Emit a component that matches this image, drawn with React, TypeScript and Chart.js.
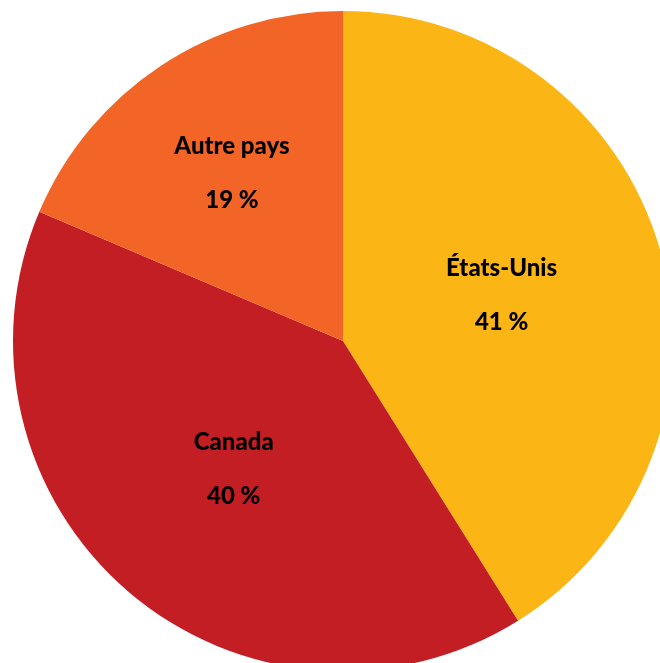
import React, { useEffect, useRef } from "react";
import { Chart, registerables } from "chart.js";

Chart.register(...registerables);

const categories = ["États-Unis", "Canada", "Autre pays"];
const shares = [41.1, 40.3, 18.6];
const shareLabels = ["41 %", "40 %", "19 %"];
const colors = ["#FBB616", "#C41E25", "#F26526"];

const labelRadiusFactors = [0.5, 0.51, 0.61];

const labelPlugin = {
  id: "sliceLabels",
  afterDatasetsDraw(chart: any) {
    const ctx = chart.ctx;
    const meta = chart.getDatasetMeta(0);
    ctx.save();
    ctx.fillStyle = "#000000";
    ctx.font = "900 24px Lato, 'Open Sans', sans-serif";
    ctx.textAlign = "center";
    ctx.textBaseline = "middle";
    meta.data.forEach((arc: any, i: number) => {
      const { x, y, startAngle, endAngle, outerRadius } = arc.getProps(
        ["x", "y", "startAngle", "endAngle", "outerRadius"],
        true
      );
      const mid = (startAngle + endAngle) / 2;
      const r = outerRadius * labelRadiusFactors[i];
      const cx = x + Math.cos(mid) * r;
      const cy = y + Math.sin(mid) * r;
      ctx.fillText(categories[i], cx, cy - 27);
      ctx.fillText(shareLabels[i], cx, cy + 27);
    });
    ctx.restore();
  },
};

export default function App() {
  const ref = useRef<HTMLCanvasElement | null>(null);
  useEffect(() => {
    if (!ref.current) return;
    const chart = new Chart(ref.current, {
      type: "pie",
      data: {
        labels: categories,
        datasets: [
          {
            data: shares,
            backgroundColor: colors,
            borderWidth: 0,
          },
        ],
      },
      options: {
        animation: false,
        responsive: false,
        layout: { padding: 11 },
        plugins: {
          legend: { display: false },
          tooltip: { enabled: false },
        },
      },
      plugins: [labelPlugin],
    });
    return () => chart.destroy();
  }, []);
  return (
    <div
      style={{
        position: "fixed",
        left: 0,
        top: 0,
        width: 660,
        height: 663,
        overflow: "hidden",
        background: "#ffffff",
      }}
    >
      <canvas
        ref={ref}
        width={686}
        height={682}
        style={{ position: "absolute", left: 0, top: 0, width: 686, height: 682 }}
      />
    </div>
  );
}
